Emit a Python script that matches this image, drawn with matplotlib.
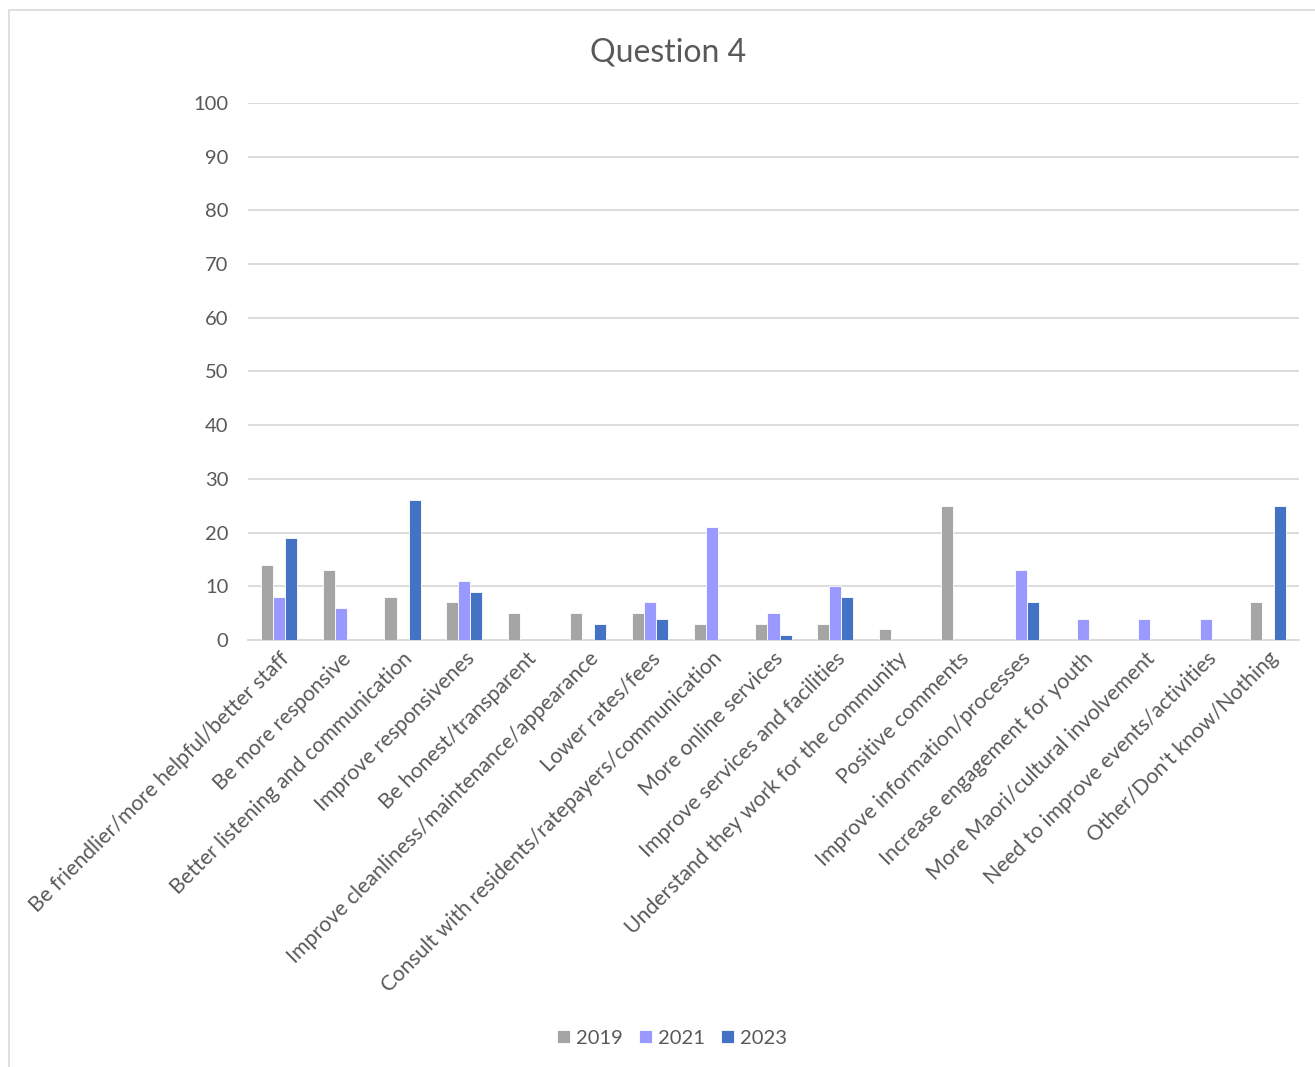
import numpy as np
import matplotlib.pyplot as plt
from matplotlib.patches import Rectangle

plt.rcParams['font.family'] = ['Lato', 'DejaVu Sans']

categories = [
    "Be friendlier/more helpful/better staff",
    "Be more responsive",
    "Better listening and communication",
    "Improve responsivenes",
    "Be honest/transparent",
    "Improve cleanliness/maintenance/appearance",
    "Lower rates/fees",
    "Consult with residents/ratepayers/communication",
    "More online services",
    "Improve services and facilities",
    "Understand they work for the community",
    "Positive comments",
    "Improve information/processes",
    "Increase engagement for youth",
    "More Maori/cultural involvement",
    "Need to improve events/activities",
    "Other/Don't know/Nothing",
]
y2019 = [14, 13, 8, 7, 5, 5, 5, 3, 3, 3, 2, 25, 0, 0, 0, 0, 7]
y2021 = [8, 6, 0, 11, 0, 0, 7, 21, 5, 10, 0, 0, 13, 4, 4, 4, 0]
y2023 = [19, 0, 26, 9, 0, 3, 4, 0, 1, 8, 0, 0, 7, 0, 0, 0, 25]

series = [("2019", y2019, "#a5a5a5"),
          ("2021", y2021, "#9999ff"),
          ("2023", y2023, "#4472c4")]

text_col = "#595959"
grid_col = "#d9d9d9"

fig = plt.figure(figsize=(13.15, 10.67), dpi=100)
ax = fig.add_axes([0.1886, 0.4002, 0.7992, 0.5033])

# outer chart frame
fig.patches.append(Rectangle((9 / 1315, -0.01), 1.1, 1 - 10 / 1067 + 0.01,
                             transform=fig.transFigure, fill=False,
                             edgecolor=grid_col, linewidth=1.2))

x = np.arange(len(categories))
w = 0.195
for i, (name, vals, col) in enumerate(series):
    ax.bar(x + (i - 1) * w, vals, w, color=col, edgecolor="white",
           linewidth=0.6, label=name, zorder=3)

ax.set_xlim(-0.5, len(categories) - 0.5)
ax.set_ylim(0, 100)
ax.set_yticks(range(0, 101, 10))
ax.yaxis.grid(True, color=grid_col, linewidth=1.3, zorder=0)
for s in ["top", "right", "left"]:
    ax.spines[s].set_visible(False)
ax.spines["bottom"].set_color(grid_col)
ax.spines["bottom"].set_linewidth(1.3)
ax.tick_params(axis="y", length=0, pad=14, labelsize=14.5, labelcolor=text_col)
ax.tick_params(axis="x", length=0, pad=6, labelsize=15.3, labelcolor=text_col)
ax.set_xticks(x)
ax.set_xticklabels(categories, rotation=45, ha="right", rotation_mode="anchor")

fig.text(0.508, 0.951, "Question 4", ha="center", va="center",
         fontsize=23, color=text_col)

fig.legend(loc="center", bbox_to_anchor=(0.511, 0.027), ncol=3, frameon=False,
           fontsize=14.5, labelcolor=text_col, handlelength=0.65,
           handleheight=0.65, handletextpad=0.3, columnspacing=0.8)

fig.savefig("out.png", dpi=100)
